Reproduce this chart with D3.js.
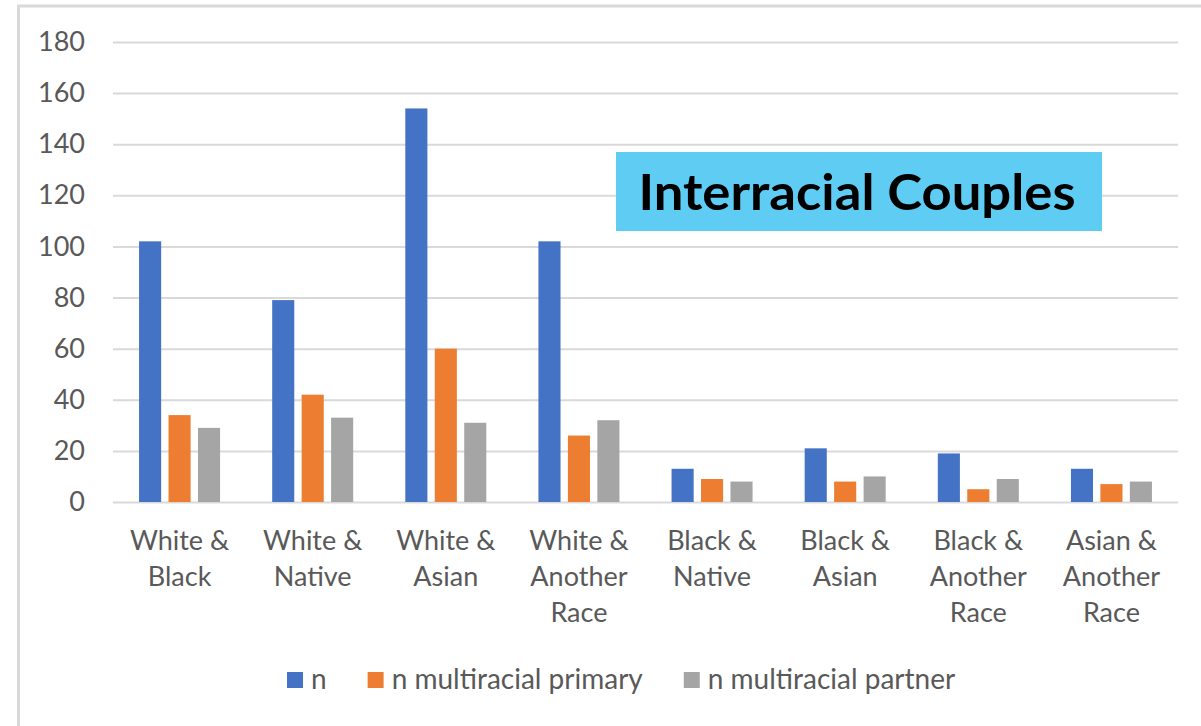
<!DOCTYPE html>
<html><head><meta charset="utf-8">
<script src="https://cdn.jsdelivr.net/npm/d3@7"></script>
<style>
html,body{margin:0;padding:0;background:#fff;}
svg{display:block;}
</style></head>
<body>
<svg id="chart" width="1201" height="726"></svg>
<script>
const categories = ["White &\nBlack","White &\nNative","White &\nAsian","White &\nAnother\nRace","Black &\nNative","Black &\nAsian","Black &\nAnother\nRace","Asian &\nAnother\nRace"];
const seriesNames = ["n","n multiracial primary","n multiracial partner"];
const nValues = [102, 79, 154, 102, 13, 21, 19, 13];
const primaryValues = [34, 42, 60, 26, 9, 8, 5, 7];
const partnerValues = [29, 33, 31, 32, 8, 10, 9, 8];
const yTicks = [0,20,40,60,80,100,120,140,160,180];
const colors = ["#4472C4","#ED7D31","#A5A5A5"];
const titleText = "Interracial Couples";

(function(){
const seriesValues = [nValues, primaryValues, partnerValues];
const svg = d3.select("#chart");
const font = "Lato, 'Open Sans', sans-serif";

// chart frame
svg.append("rect").attr("x",18.5).attr("y",6).attr("width",1400).attr("height",1000)
  .attr("fill","#fff").attr("stroke","#d9d9d9").attr("stroke-width",3);

const pLeft = 113, pRight = 1178, pTop = 42, pBottom = 502;
const y = d3.scaleLinear().domain([0,180]).range([pBottom, pTop]);
const x0 = d3.scaleBand().domain(categories).range([pLeft, pRight]).padding(0);
const x1 = d3.scaleBand().domain(seriesNames).range([0, 81]).paddingInner(0.25);
const groupOffset = (x0.bandwidth() - 81) / 2;

// y axis + gridlines
const yAxis = d3.axisLeft(y).tickValues(yTicks).tickSize(-(pRight-pLeft)).tickPadding(28);
const gy = svg.append("g").attr("transform",`translate(${pLeft},0)`).call(yAxis);
gy.select(".domain").remove();
gy.selectAll(".tick line").attr("stroke","#d9d9d9").attr("stroke-width",2);
gy.selectAll(".tick text").attr("fill","#595959").style("font-family",font).style("font-size","27px");

// bars
const groups = svg.append("g").selectAll("g").data(categories).join("g")
  .attr("transform", d => `translate(${x0(d)+groupOffset},0)`);
groups.selectAll("rect").data((d,i) => seriesNames.map((s,j) => ({s, v: seriesValues[j][i], j})))
  .join("rect")
  .attr("x", d => x1(d.s))
  .attr("width", x1.bandwidth())
  .attr("y", d => y(d.v))
  .attr("height", d => y(0) - y(d.v))
  .attr("fill", d => colors[d.j]);

// x labels
const xl = svg.append("g").selectAll("text").data(categories).join("text")
  .attr("x", d => x0(d) + x0.bandwidth()/2)
  .attr("y", 550)
  .attr("text-anchor","middle")
  .attr("fill","#595959")
  .style("font-family",font).style("font-size","27px");
xl.each(function(d){
  const lines = d.split("\n");
  d3.select(this).selectAll("tspan").data(lines).join("tspan")
    .attr("x", x0(d) + x0.bandwidth()/2)
    .attr("dy", (l,i) => i === 0 ? 0 : 36)
    .text(l => l);
});

// legend
const lg = svg.append("g");
let lx = 287;
seriesNames.forEach((s,i) => {
  lg.append("rect").attr("x",lx).attr("y",672).attr("width",16).attr("height",16).attr("fill",colors[i]);
  const t = lg.append("text").attr("x",lx+24).attr("y",689).attr("fill","#595959")
    .style("font-family",font).style("font-size","28px").text(s);
  lx = lx + 24 + t.node().getComputedTextLength() + 41;
});

// title box
const tb = svg.append("g");
tb.append("rect").attr("x",616).attr("y",152).attr("width",486).attr("height",79).attr("fill","#5ECCF3");
tb.append("text").attr("x",857).attr("y",210).attr("text-anchor","middle")
  .attr("fill","#000").style("font-family",font).style("font-weight","bold").style("font-size","49px")
  .attr("textLength",437).attr("lengthAdjust","spacingAndGlyphs")
  .text(titleText);
})();
</script>
</body></html>
